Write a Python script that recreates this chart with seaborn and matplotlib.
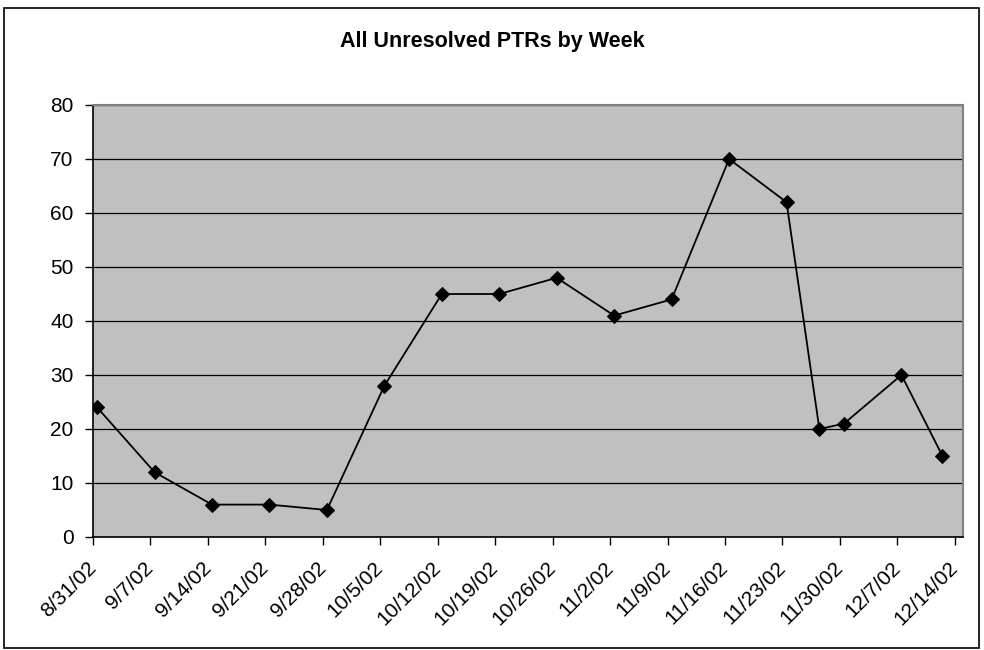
import pandas as pd
import matplotlib
matplotlib.use("Agg")
import matplotlib.pyplot as plt
from matplotlib.patches import Rectangle
import seaborn as sns


# DATA
dates = ["2002-08-31", "2002-09-07", "2002-09-14", "2002-09-21", "2002-09-28",
         "2002-10-05", "2002-10-12", "2002-10-19", "2002-10-26", "2002-11-02",
         "2002-11-09", "2002-11-16", "2002-11-23", "2002-11-27", "2002-11-30",
         "2002-12-07", "2002-12-12"]
unresolved = [24, 12, 6, 6, 5, 28, 45, 45, 48, 41, 44, 70, 62, 20, 21, 30, 15]

tick_dates = pd.date_range("2002-08-31", "2002-12-14", freq="7D")
tick_labels = [f"{d.month}/{d.day}/02" for d in tick_dates]

TITLE = "All Unresolved PTRs by Week"

# excel date axis puts points in the middle of the day
df = pd.DataFrame({
    "date": pd.to_datetime(dates) + pd.Timedelta(hours=12),
    "count": unresolved,
})


# STYLE
sns.set_style("white")
plt.rcParams["font.family"] = ["Liberation Sans", "DejaVu Sans"]
plt.rcParams["text.color"] = "black"
plt.rcParams["xtick.color"] = "black"
plt.rcParams["ytick.color"] = "black"
plt.rcParams["xtick.labelcolor"] = "black"
plt.rcParams["ytick.labelcolor"] = "black"

fig = plt.figure(figsize=(9.84, 6.5), dpi=100)
ax = fig.add_axes([93 / 984, 1 - 537 / 650, 870 / 984, 432 / 650])

# chart border
fig.patches.append(Rectangle((4 / 984, 2 / 650), 975 / 984, 640 / 650,
                             transform=fig.transFigure, fill=False,
                             edgecolor="black", linewidth=1.2))

ax.set_facecolor("#C0C0C0")

sns.lineplot(data=df, x="date", y="count", ax=ax, color="black",
             linewidth=1.3, marker="D", markersize=7,
             markerfacecolor="black", markeredgecolor="black", zorder=3)

# AXES
ax.set_ylim(0, 80)
ax.set_yticks(range(0, 81, 10))
ax.set_xlim(pd.Timestamp("2002-08-31"), pd.Timestamp("2002-12-15"))
ax.set_xticks(tick_dates)
ax.set_xticklabels(tick_labels, rotation=45, ha="right", va="center",
                   rotation_mode="anchor", fontsize=15)
ax.tick_params(axis="y", labelsize=15, pad=8)
ax.tick_params(axis="x", pad=14)
ax.tick_params(axis="both", direction="out", length=6, width=1,
               color="black", left=True, bottom=True)

ax.grid(axis="y", color="black", linewidth=0.9)
ax.set_axisbelow(True)

for side in ["top", "right"]:
    ax.spines[side].set_color("#808080")
    ax.spines[side].set_linewidth(1.5)
for side in ["left", "bottom"]:
    ax.spines[side].set_color("black")
    ax.spines[side].set_linewidth(1.2)

ax.set_xlabel("")
ax.set_ylabel("")

fig.text(0.5, 1 - 41 / 650, TITLE, ha="center", va="center",
         fontsize=15.5, fontweight="bold", color="black")

plt.savefig("out.png", dpi=100)
plt.close()
